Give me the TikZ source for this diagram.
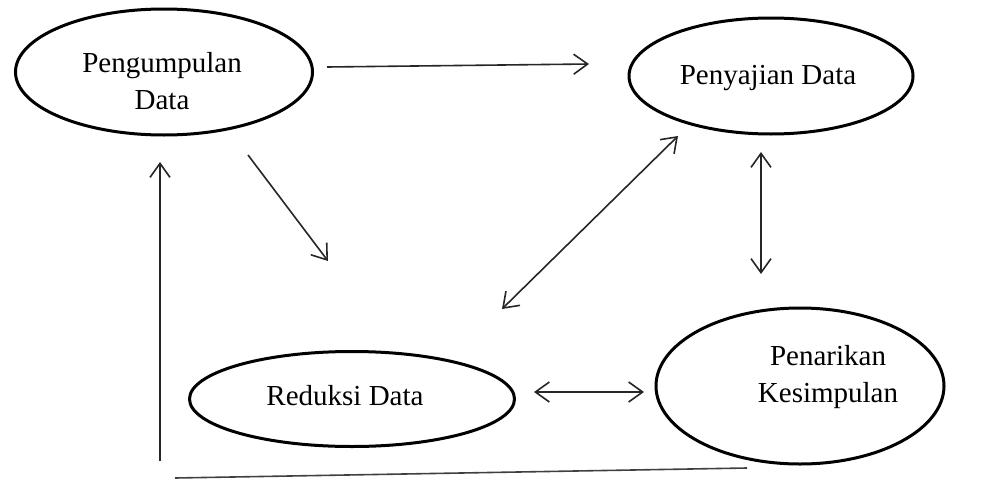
\documentclass[tikz,border=0pt]{standalone}
\usepackage{fontspec}
\setmainfont{Liberation Serif}
\usetikzlibrary{shapes.geometric,arrows.meta}

\tikzset{
  stage/.style={draw, ellipse, line width=3pt, inner sep=0pt},
  stagetext/.style={align=center, font=\fontsize{29}{37}\selectfont, inner sep=0pt},
  flow/.style={line width=1.6pt, draw=black!85,
    -{Straight Barb[length=14pt,width=20pt,line width=1.6pt]}},
  twoway/.style={line width=1.6pt, draw=black!85,
    {Straight Barb[length=14pt,width=20pt,line width=1.6pt]}-{Straight Barb[length=14pt,width=20pt,line width=1.6pt]}},
  plain/.style={line width=1.6pt, draw=black!75}
}

\begin{document}
\begin{tikzpicture}[x=1pt,y=-1pt]
  \useasboundingbox (0,0) rectangle (982,479);

  % the four stages
  \node[stage, minimum width=297pt, minimum height=126pt] (kumpul) at (164,72) {};
  \node[stage, minimum width=284pt, minimum height=116pt] (sajian) at (771,76) {};
  \node[stage, minimum width=325pt, minimum height=95pt] (reduksi) at (352,399) {};
  \node[stage, minimum width=288pt, minimum height=156pt] (tarik) at (800,386) {};

  \node[stagetext] (kumpulT) at (162,81) {Pengumpulan\\Data};
  \node[stagetext] (sajianT) at (768,78) {Penyajian Data};
  \node[stagetext] (reduksiT) at (345,396) {Reduksi Data};
  \node[stagetext] (tarikT) at (828,377) {Penarikan\\Kesimpulan};

  % connector end points
  \coordinate (a1) at (327,67);
  \coordinate (a2) at (589,64);
  \coordinate (b1) at (248,155);
  \coordinate (b2) at (328,261);
  \coordinate (c1) at (160,461);
  \coordinate (c2) at (160,162);
  \coordinate (d1) at (502,309);
  \coordinate (d2) at (678,136);
  \coordinate (e1) at (761,152);
  \coordinate (e2) at (761,274);
  \coordinate (f1) at (534,392);
  \coordinate (f2) at (644,392);
  \coordinate (g1) at (175,478);
  \coordinate (g2) at (747,468);

  % connectors
  \draw[flow] (a1) -- (a2);
  \draw[flow] (b1) -- (b2);
  \draw[flow] (c1) -- (c2);
  \draw[twoway] (d1) -- (d2);
  \draw[twoway] (e1) -- (e2);
  \draw[twoway] (f1) -- (f2);
  \draw[plain] (g1) -- (g2);
\end{tikzpicture}
\end{document}
